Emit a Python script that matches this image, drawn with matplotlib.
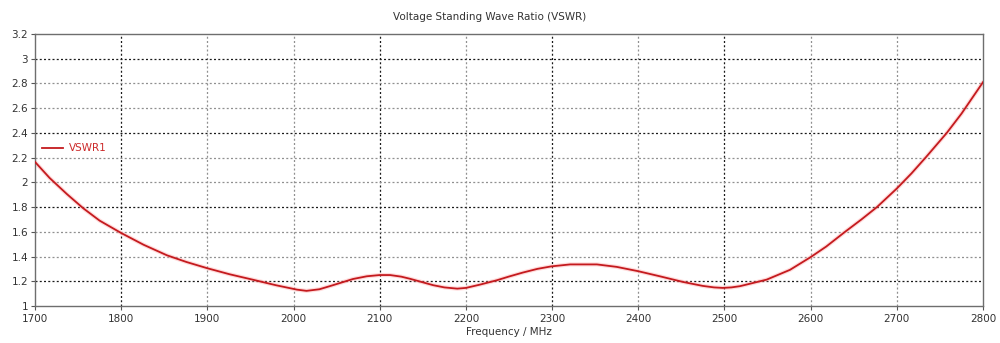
import matplotlib
matplotlib.use("Agg")
import matplotlib.pyplot as plt

# VSWR sweep of the antenna port
freq_mhz = [1700, 1717, 1737, 1756, 1775, 1800, 1826, 1853, 1876, 1900,
            1926, 1953, 1980, 2004, 2015, 2030, 2042, 2069, 2085, 2100,
            2112, 2125, 2135, 2162, 2175, 2190, 2200, 2216, 2236, 2250,
            2266, 2283, 2299, 2321, 2352, 2375, 2400, 2425, 2452, 2475,
            2488, 2498, 2508, 2518, 2549, 2576, 2600, 2618, 2640, 2659,
            2677, 2700, 2717, 2734, 2758, 2775, 2800]
vswr1 = [2.165, 2.035, 1.905, 1.79, 1.69, 1.59, 1.495, 1.41, 1.355, 1.305,
         1.256, 1.212, 1.167, 1.132, 1.122, 1.135, 1.160, 1.218, 1.240, 1.250,
         1.250, 1.237, 1.220, 1.168, 1.150, 1.140, 1.146, 1.172, 1.208, 1.238,
         1.270, 1.300, 1.320, 1.336, 1.336, 1.316, 1.281, 1.240, 1.194, 1.162,
         1.150, 1.146, 1.150, 1.160, 1.213, 1.292, 1.395, 1.48, 1.60, 1.70,
         1.80, 1.950, 2.072, 2.205, 2.40, 2.555, 2.81]

x_ticks = [1700, 1800, 1900, 2000, 2100, 2200, 2300, 2400, 2500, 2600, 2700, 2800]
y_ticks = [1, 1.2, 1.4, 1.6, 1.8, 2, 2.2, 2.4, 2.6, 2.8, 3, 3.2]
y_tick_labels = ["1", "1.2", "1.4", "1.6", "1.8", "2", "2.2", "2.4", "2.6", "2.8", "3", "3.2"]

x_dark_grid = [1800, 2100, 2300, 2500]
y_dark_grid = [1.2, 1.8, 2.4, 3.0]

plt.rcParams["font.family"] = ["DejaVu Sans"]
text_color = "#333333"

fig = plt.figure(figsize=(10, 3.43), dpi=100)
ax = fig.add_axes([0.035, 0.108, 0.948, 0.793])

ax.set_xlim(1700, 2800)
ax.set_ylim(1, 3.2)

# dotted grid, some lines darker than others
dots = (0, (1.6, 1.8))
for xv in x_ticks[1:-1]:
    dark = xv in x_dark_grid
    ax.axvline(xv, color="#1a1a1a" if dark else "#909090", lw=0.9,
               ls=dots, zorder=1)
for yv in y_ticks[1:-1]:
    dark = any(abs(yv - d) < 1e-6 for d in y_dark_grid)
    ax.axhline(yv, color="#1a1a1a" if dark else "#909090", lw=0.9,
               ls=dots, zorder=1)

# soft halo under the trace
ax.plot(freq_mhz, vswr1, color="#ff9a9a", lw=3.0, alpha=0.35,
        solid_capstyle="round", solid_joinstyle="round", zorder=2)
line, = ax.plot(freq_mhz, vswr1, color="#c41a1e", lw=1.3, zorder=3,
                solid_joinstyle="round", label="VSWR1")

ax.set_xticks(x_ticks)
ax.set_xticklabels([str(v) for v in x_ticks])
ax.set_yticks(y_ticks)
ax.set_yticklabels(y_tick_labels)
ax.tick_params(axis="both", labelsize=7.5, colors="#555555",
               labelcolor=text_color, length=3, width=0.8, direction="out")
ax.tick_params(axis="x", pad=3)
ax.tick_params(axis="y", pad=2)

for side in ["left", "bottom", "top", "right"]:
    ax.spines[side].set_color("#6e6e6e")
    ax.spines[side].set_linewidth(1.0)

ax.set_xlabel("Frequency / MHz", fontsize=7.5, color=text_color, labelpad=2)
fig.text(0.49, 0.949, "Voltage Standing Wave Ratio (VSWR)", ha="center",
         va="center", fontsize=7.5, color=text_color)

leg = ax.legend(handles=[line], loc="upper left",
                bbox_to_anchor=(0.0, 0.625), frameon=False, fontsize=7.5,
                handlelength=2.0, handletextpad=0.6, borderaxespad=0.3)
for t in leg.get_texts():
    t.set_color("#cc2a2a")

fig.savefig("out.png", dpi=100, facecolor="white")
